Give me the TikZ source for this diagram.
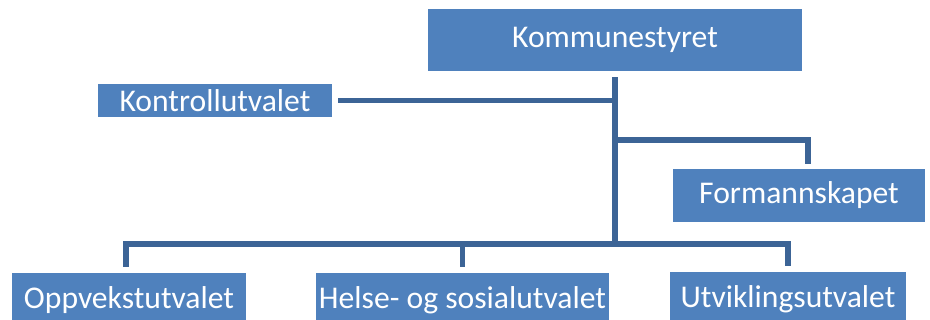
\documentclass[tikz,border=0pt]{standalone}
\usepackage{fontspec}
\setmainfont{Carlito}
\usetikzlibrary{positioning}
\definecolor{orgblue}{HTML}{4F81BD}
\definecolor{orgline}{HTML}{3C6496}
\tikzset{
    unit/.style = {fill = orgblue, text = white, inner sep = 0pt, font = \fontsize{18}{22}\selectfont},
    link/.style = {draw = orgline, line width = 3.4pt}
}
\begin{document}
\begin{tikzpicture}[x = 0.02cm, y = -0.02cm]
        \useasboundingbox (0,0) rectangle (930,320);
        \node[unit, minimum width = 7.48cm, minimum height = 1.24cm] (kom) at (615,40) {Kommunestyret};
        \node[unit, minimum width = 4.68cm, minimum height = 0.66cm] (kon) at (215,100.5) {Kontrollutvalet};
        \node[unit, minimum width = 5.04cm, minimum height = 1.06cm] (for) at (799,195.5) {Formannskapet};
        \node[unit, minimum width = 4.68cm, minimum height = 1.08cm] (opp) at (129,300) {Oppvekstutvalet};
        \node[unit, minimum width = 5.86cm, minimum height = 1.08cm] (hel) at (462.5,300) {Helse- og sosialutvalet};
        \node[unit, minimum width = 4.72cm, minimum height = 1.08cm] (utv) at (788,299) {Utviklingsutvalet};
        \coordinate (hub) at (615,244);
        \coordinate (split) at (615,140);
        \draw[link] ([yshift = -0.12cm]kom.south) -- (hub);
        \draw[link] ([xshift = 0.12cm]kon.east) -- (kon.east -| hub);
        \draw[link] (split) -| ([xshift = 0.18cm, yshift = 0.1cm]for.north);
        \draw[link] ([xshift = -0.06cm, yshift = 0.12cm]opp.north) |- (hub) -| ([yshift = 0.12cm]utv.north);
        \draw[link] ([yshift = 0.12cm]hel.north) -- (hel.north |- hub);
    \end{tikzpicture}
\end{document}
